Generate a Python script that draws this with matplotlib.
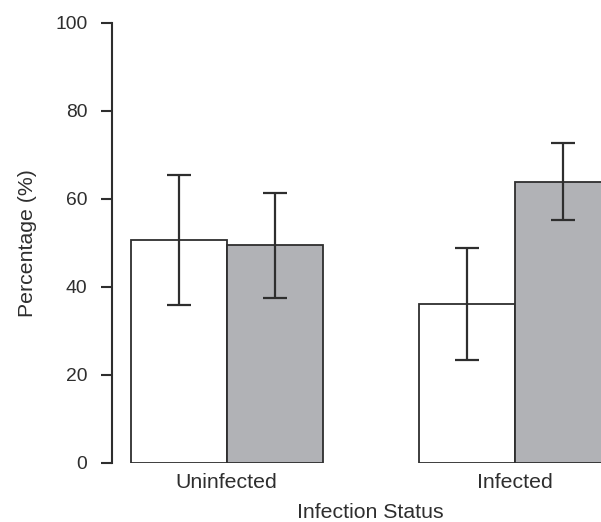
import matplotlib
matplotlib.use("Agg")
import matplotlib.pyplot as plt
import numpy as np

plt.rcParams['font.family'] = ['Liberation Sans', 'DejaVu Sans']

groups = ["Uninfected", "Infected"]
white_vals = [50.7, 36.1]
white_lo = [35.8, 23.3]
white_hi = [65.3, 48.9]
grey_vals = [49.4, 63.9]
grey_lo = [37.5, 55.2]
grey_hi = [61.4, 72.6]
yticks = [0, 20, 40, 60, 80, 100]

W, H = 601, 522
fig = plt.figure(figsize=(W / 100, H / 100), dpi=100)
ax_left, ax_right = 111.5, 630.0
ax_bot, ax_top = 462.7, 22.7
ax = fig.add_axes([ax_left / W, 1 - ax_bot / H, (ax_right - ax_left) / W, (ax_bot - ax_top) / H])

dark = "#2e2e2e"
grey = "#b1b2b6"

group_start = np.array([1.0, 4.0])
xw = group_start + 0.5
xg = group_start + 1.5

ax.bar(xw, white_vals, width=1.0, color="white", edgecolor=dark, linewidth=1.3, zorder=2)
ax.bar(xg, grey_vals, width=1.0, color=grey, edgecolor=dark, linewidth=1.3, zorder=2)

def err(vals, lo, hi):
    v = np.array(vals); l = np.array(lo); h = np.array(hi)
    return np.vstack([v - l, h - v])

ax.errorbar(xw, white_vals, yerr=err(white_vals, white_lo, white_hi), fmt="none",
            ecolor=dark, elinewidth=1.6, capsize=8.3, capthick=1.6, zorder=3)
ax.errorbar(xg, grey_vals, yerr=err(grey_vals, grey_lo, grey_hi), fmt="none",
            ecolor=dark, elinewidth=1.6, capsize=8.3, capthick=1.6, zorder=3)

ax.set_xlim(0.8, 6.2)
ax.set_ylim(0, 100)

for s in ["top", "right", "bottom"]:
    ax.spines[s].set_visible(False)
ax.spines["left"].set_bounds(0, 100)
ax.spines["left"].set_color(dark)
ax.spines["left"].set_linewidth(1.5)

fs_tick = 13.9
fs_lab = 15.3
ax.set_yticks(yticks)
ax.set_yticklabels([str(t) for t in yticks])
ax.tick_params(axis="y", length=8, width=1.5, color=dark, pad=9.4, labelsize=fs_tick, labelcolor=dark)
ax.set_xticks((group_start + 1.0).tolist())
ax.set_xticklabels(groups)
ax.tick_params(axis="x", length=0, pad=7.5, labelsize=fs_lab, labelcolor=dark)

fig.text(28 / W, 1 - 242.7 / H, "Percentage (%)", rotation=90, ha="center", va="center",
         fontsize=fs_lab, color=dark)
fig.text(370 / W, 1 - 513 / H, "Infection Status", ha="center", va="center",
         fontsize=fs_lab, color=dark)

fig.savefig("out.png", dpi=100, facecolor="white")
